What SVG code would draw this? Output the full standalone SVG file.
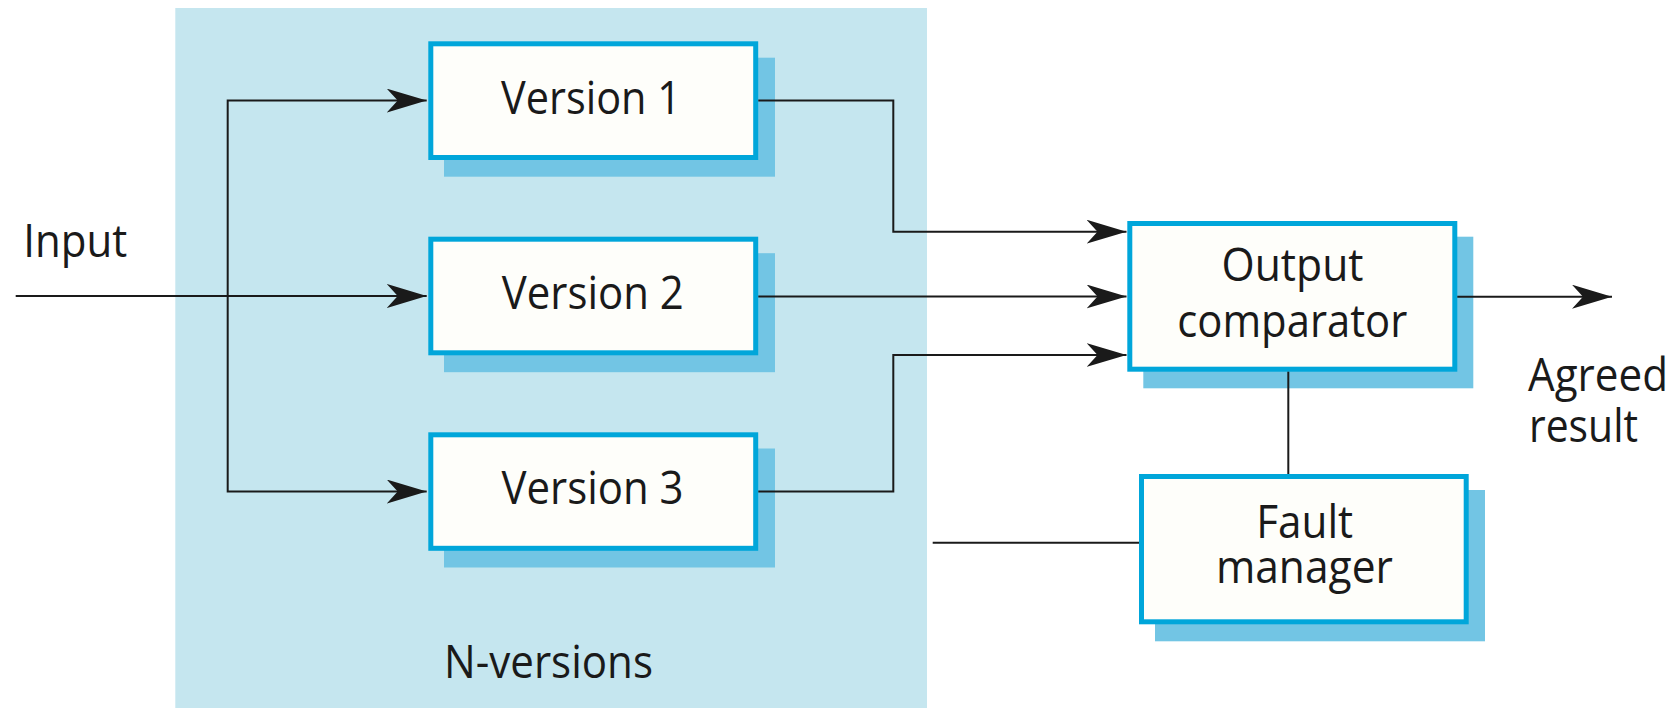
<svg xmlns="http://www.w3.org/2000/svg" width="1679" height="708" viewBox="0 0 1679 708">
  <style>
    .panel { fill: #c5e6ef; }
    .shadow { fill: #72c5e4; }
    .box { fill: #fefefa; stroke: #00a6da; stroke-width: 5; }
    .lbl { font-family: "Open Sans", "Noto Sans", "Liberation Sans", sans-serif; font-size: 45px; fill: #1a1a1a; }
    .mid { text-anchor: middle; }
    .wire { fill: none; stroke: #1a1a1a; stroke-width: 2; }
  </style>
  <defs>
    <marker id="arrow" markerUnits="userSpaceOnUse" viewBox="0 0 40 24" refX="40" refY="12" markerWidth="40" markerHeight="24" orient="auto">
      <path d="M0,0 L40,12 L0,24 L11,12 Z" fill="#1a1a1a"/>
    </marker>
  </defs>

  <rect width="1679" height="708" fill="#ffffff"/>

  <!-- N-version container -->
  <g id="n-versions">
    <rect class="panel" x="175.3" y="8" width="751.7" height="700"/>
    <text class="lbl mid" x="548.5" y="678" textLength="209" lengthAdjust="spacingAndGlyphs">N-versions</text>
  </g>

  <g id="version-1">
    <rect class="shadow" x="444" y="57.7" width="331" height="119"/>
    <rect class="box" x="430.8" y="43.8" width="324.9" height="113.7"/>
    <text class="lbl mid" x="591" y="114" textLength="180" lengthAdjust="spacingAndGlyphs">Version 1</text>
  </g>

  <g id="version-2">
    <rect class="shadow" x="444" y="253.2" width="331" height="119"/>
    <rect class="box" x="430.8" y="239.2" width="324.9" height="113.6"/>
    <text class="lbl mid" x="592.8" y="309.3" textLength="182" lengthAdjust="spacingAndGlyphs">Version 2</text>
  </g>

  <g id="version-3">
    <rect class="shadow" x="444" y="448.5" width="331" height="119"/>
    <rect class="box" x="430.8" y="434.8" width="324.9" height="113.5"/>
    <text class="lbl mid" x="592.5" y="504" textLength="182" lengthAdjust="spacingAndGlyphs">Version 3</text>
  </g>

  <g id="output-comparator">
    <rect class="shadow" x="1143.3" y="236.7" width="330" height="151.6"/>
    <rect class="box" x="1129.8" y="223.5" width="325" height="145.7"/>
    <text class="lbl mid" x="1292.5" y="280.5" textLength="142" lengthAdjust="spacingAndGlyphs">Output</text>
    <text class="lbl mid" x="1292.3" y="336.5" textLength="230" lengthAdjust="spacingAndGlyphs">comparator</text>
  </g>

  <g id="fault-manager">
    <rect class="shadow" x="1155" y="490" width="330" height="151.3"/>
    <rect class="box" x="1141.5" y="476.5" width="324.7" height="145.3"/>
    <text class="lbl mid" x="1304.7" y="537.5" textLength="97" lengthAdjust="spacingAndGlyphs">Fault</text>
    <text class="lbl mid" x="1304.4" y="583" textLength="177" lengthAdjust="spacingAndGlyphs">manager</text>
  </g>

  <g id="input-label">
    <text class="lbl" x="23.3" y="257.3" textLength="104" lengthAdjust="spacingAndGlyphs">Input</text>
  </g>

  <g id="agreed-result-label">
    <text class="lbl" x="1528" y="391" textLength="140" lengthAdjust="spacingAndGlyphs">Agreed</text>
    <text class="lbl" x="1529" y="442" textLength="109" lengthAdjust="spacingAndGlyphs">result</text>
  </g>

  <!-- wires are drawn over the box shadows -->
  <g id="connectors">
    <path class="wire" d="M15.7,296 H426.7" marker-end="url(#arrow)"/>
    <path class="wire" d="M227.7,296 V100.6 H426.7" marker-end="url(#arrow)"/>
    <path class="wire" d="M227.7,296 V491.5 H426.7" marker-end="url(#arrow)"/>
    <path class="wire" d="M758.3,100.6 H893.3 V231.7 H1126.5" marker-end="url(#arrow)"/>
    <path class="wire" d="M758.3,296.5 H1126.5" marker-end="url(#arrow)"/>
    <path class="wire" d="M758.3,491.5 H893.3 V355 H1126.5" marker-end="url(#arrow)"/>
    <path class="wire" d="M1457.3,296.7 H1612" marker-end="url(#arrow)"/>
    <path class="wire" d="M1288.3,371.7 V474"/>
    <path class="wire" d="M932.7,542.7 H1139"/>
  </g>
</svg>
